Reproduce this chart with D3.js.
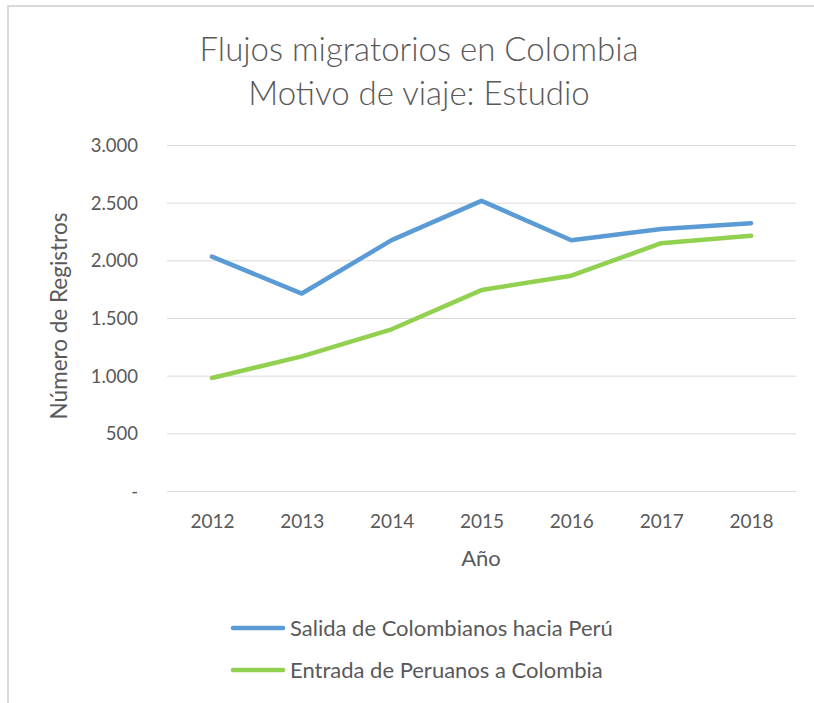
<!DOCTYPE html>
<html>
<head>
<meta charset="utf-8">
<script src="https://cdn.jsdelivr.net/npm/d3@7"></script>
<style>
  html, body { margin: 0; padding: 0; background: #fff; }
  svg { display: block; }
  text { font-family: Lato, "Open Sans", sans-serif; fill: #595959; }
</style>
</head>
<body>
<svg id="chart" width="814" height="703"></svg>
<script>
const years = ["2012", "2013", "2014", "2015", "2016", "2017", "2018"];
const salidaColombianos = [2032, 1712, 2175, 2516, 2174, 2272, 2322];
const entradaPeruanos = [980, 1167, 1402, 1742, 1867, 2149, 2213];
const yTicks = [0, 500, 1000, 1500, 2000, 2500, 3000];
const seriesNames = ["Salida de Colombianos hacia Perú", "Entrada de Peruanos a Colombia"];
const seriesColors = ["#5B9BD5", "#92D050"];
const titleLines = ["Flujos migratorios en Colombia", "Motivo de viaje: Estudio"];
const xTitle = "Año";
const yTitle = "Número de Registros";

const svg = d3.select("#chart");

// chart border
svg.append("path")
  .attr("d", "M8,703 V6 H814")
  .attr("fill", "none")
  .attr("stroke", "#d9d9d9")
  .attr("stroke-width", 2);

const plot = { left: 167, right: 796, top: 145, bottom: 491 };

const x = d3.scalePoint().domain(years).range([plot.left, plot.right]).padding(0.5);
const y = d3.scaleLinear().domain([0, 3000]).range([plot.bottom, plot.top]);

const loc = d3.formatLocale({ decimal: ",", thousands: ".", grouping: [3], currency: ["$", ""] });
const fmt = v => v === 0 ? "-" : loc.format(",")(v);

// title
svg.append("g").selectAll("text").data(titleLines).join("text")
  .attr("x", 419)
  .attr("y", (d, i) => 61 + i * 44)
  .attr("text-anchor", "middle")
  .attr("font-size", 33)
  .attr("font-weight", 300)
  .text(d => d);

// grid lines
svg.append("g").selectAll("line").data(yTicks).join("line")
  .attr("x1", plot.left).attr("x2", plot.right)
  .attr("y1", d => y(d) + 0.5).attr("y2", d => y(d) + 0.5)
  .attr("stroke", "#d9d9d9").attr("stroke-width", 1);

// y axis labels
const yAxis = d3.axisLeft(y).tickValues(yTicks).tickFormat(fmt).tickSize(0).tickPadding(0);
const gy = svg.append("g").attr("transform", "translate(138,0)").call(yAxis);
gy.select(".domain").remove();
gy.selectAll("text").attr("font-size", 18.5).attr("font-family", "Lato, sans-serif").attr("fill", "#595959").attr("dy", "0.35em");

// x axis labels
const xAxis = d3.axisBottom(x).tickSize(0).tickPadding(0);
const gx = svg.append("g").attr("transform", "translate(0,514)").call(xAxis);
gx.select(".domain").remove();
gx.selectAll("text").attr("font-size", 19).attr("font-family", "Lato, sans-serif").attr("fill", "#595959").attr("dy", "0.71em");

// axis titles
svg.append("text")
  .attr("x", 481).attr("y", 566)
  .attr("text-anchor", "middle")
  .attr("font-size", 22)
  .text(xTitle);

svg.append("text")
  .attr("transform", "translate(67,316) rotate(-90)")
  .attr("text-anchor", "middle")
  .attr("font-size", 22.5)
  .text(yTitle);

// lines
const line = d3.line().x((d, i) => x(years[i])).y(d => y(d));
[salidaColombianos, entradaPeruanos].forEach((s, k) => {
  svg.append("path")
    .attr("d", line(s))
    .attr("fill", "none")
    .attr("stroke", seriesColors[k])
    .attr("stroke-width", 4.5)
    .attr("stroke-linejoin", "round")
    .attr("stroke-linecap", "round");
});

// legend
const lg = svg.append("g").selectAll("g").data(seriesNames).join("g")
  .attr("transform", (d, i) => `translate(233,${628 + i * 42})`);
lg.append("line")
  .attr("x1", 0).attr("x2", 50).attr("y1", 0).attr("y2", 0)
  .attr("stroke", (d, i) => seriesColors[i])
  .attr("stroke-width", 4.5)
  .attr("stroke-linecap", "round");
lg.append("text")
  .attr("x", 57).attr("y", 0).attr("dy", "0.35em")
  .attr("font-size", 22)
  .text(d => d);
</script>
</body>
</html>
